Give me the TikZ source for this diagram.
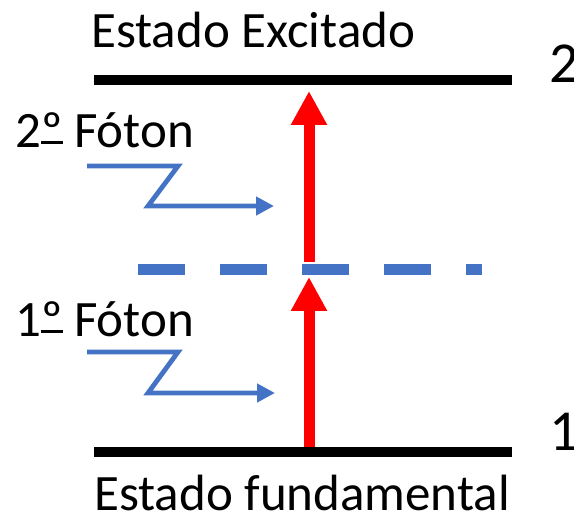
\documentclass[tikz,border=0pt]{standalone}
\usepackage{fontspec}
\setmainfont{Carlito}
\usetikzlibrary{arrows.meta}
\definecolor{photonblue}{HTML}{4472C4}
\definecolor{excred}{HTML}{FF0000}
\newcommand{\myordo}{\setbox0\hbox{º}\rlap{\raisebox{4pt}{\rule{\wd0}{3pt}}}\box0}
\tikzset{
  level/.style={line width=10pt, black},
  virtual/.style={line width=11pt, photonblue, dash pattern=on 47pt off 35pt},
  excite/.style={line width=11pt, excred, -{Triangle[length=34pt,width=34pt]}},
  photon/.style={line width=4.8pt, photonblue, -{Triangle[length=18pt,width=18pt]}},
  lbl/.style={inner sep=0pt, anchor=base west, font=\fontsize{51pt}{55pt}\selectfont},
  num/.style={inner sep=0pt, anchor=base west, font=\fontsize{58pt}{62pt}\selectfont}
}
\begin{document}
\begin{tikzpicture}[x=1pt,y=-1pt]
\useasboundingbox (0,0) rectangle (574,516);
\clip (0,0) rectangle (574,516);
% coordinates
\coordinate (topL) at (94,80);
\coordinate (topR) at (512,80);
\coordinate (botL) at (94,452);
\coordinate (botR) at (512,452);
\coordinate (virL) at (138,270);
\coordinate (virR) at (482,270);
\coordinate (a1s) at (309,452);
\coordinate (a1e) at (309,277);
\coordinate (a2s) at (309,262);
\coordinate (a2e) at (309,91);
% virtual level
\draw[virtual] (virL) -- (virR);
% excitation arrows
\draw[excite] (a1s) -- (a1e);
\draw[excite] (a2s) -- (a2e);
% energy levels
\draw[level] (topL) -- (topR);
\draw[level] (botL) -- (botR);
% photons
\coordinate (p2a) at (87,166);
\coordinate (p2b) at (178,166);
\coordinate (p2c) at (148,206);
\coordinate (p2d) at (274,206);
\draw[photon] (p2a) -- (p2b) -- (p2c) -- (p2d);
\coordinate (p1a) at (87,352);
\coordinate (p1b) at (178,352);
\coordinate (p1c) at (148,393);
\coordinate (p1d) at (275,393);
\draw[photon] (p1a) -- (p1b) -- (p1c) -- (p1d);
% labels
\node[lbl] (exc) at (91,48) {Estado Excitado};
\node[lbl] (fund) at (94,510) {Estado fundamental};
\node[lbl] (f2) at (15,148) {2\myordo{} Fóton};
\node[lbl] (f1) at (15,337) {1\myordo{} Fóton};
\node[num] (n2) at (549,83) {2};
\node[num] (n1) at (549,450) {1};
\end{tikzpicture}
\end{document}
